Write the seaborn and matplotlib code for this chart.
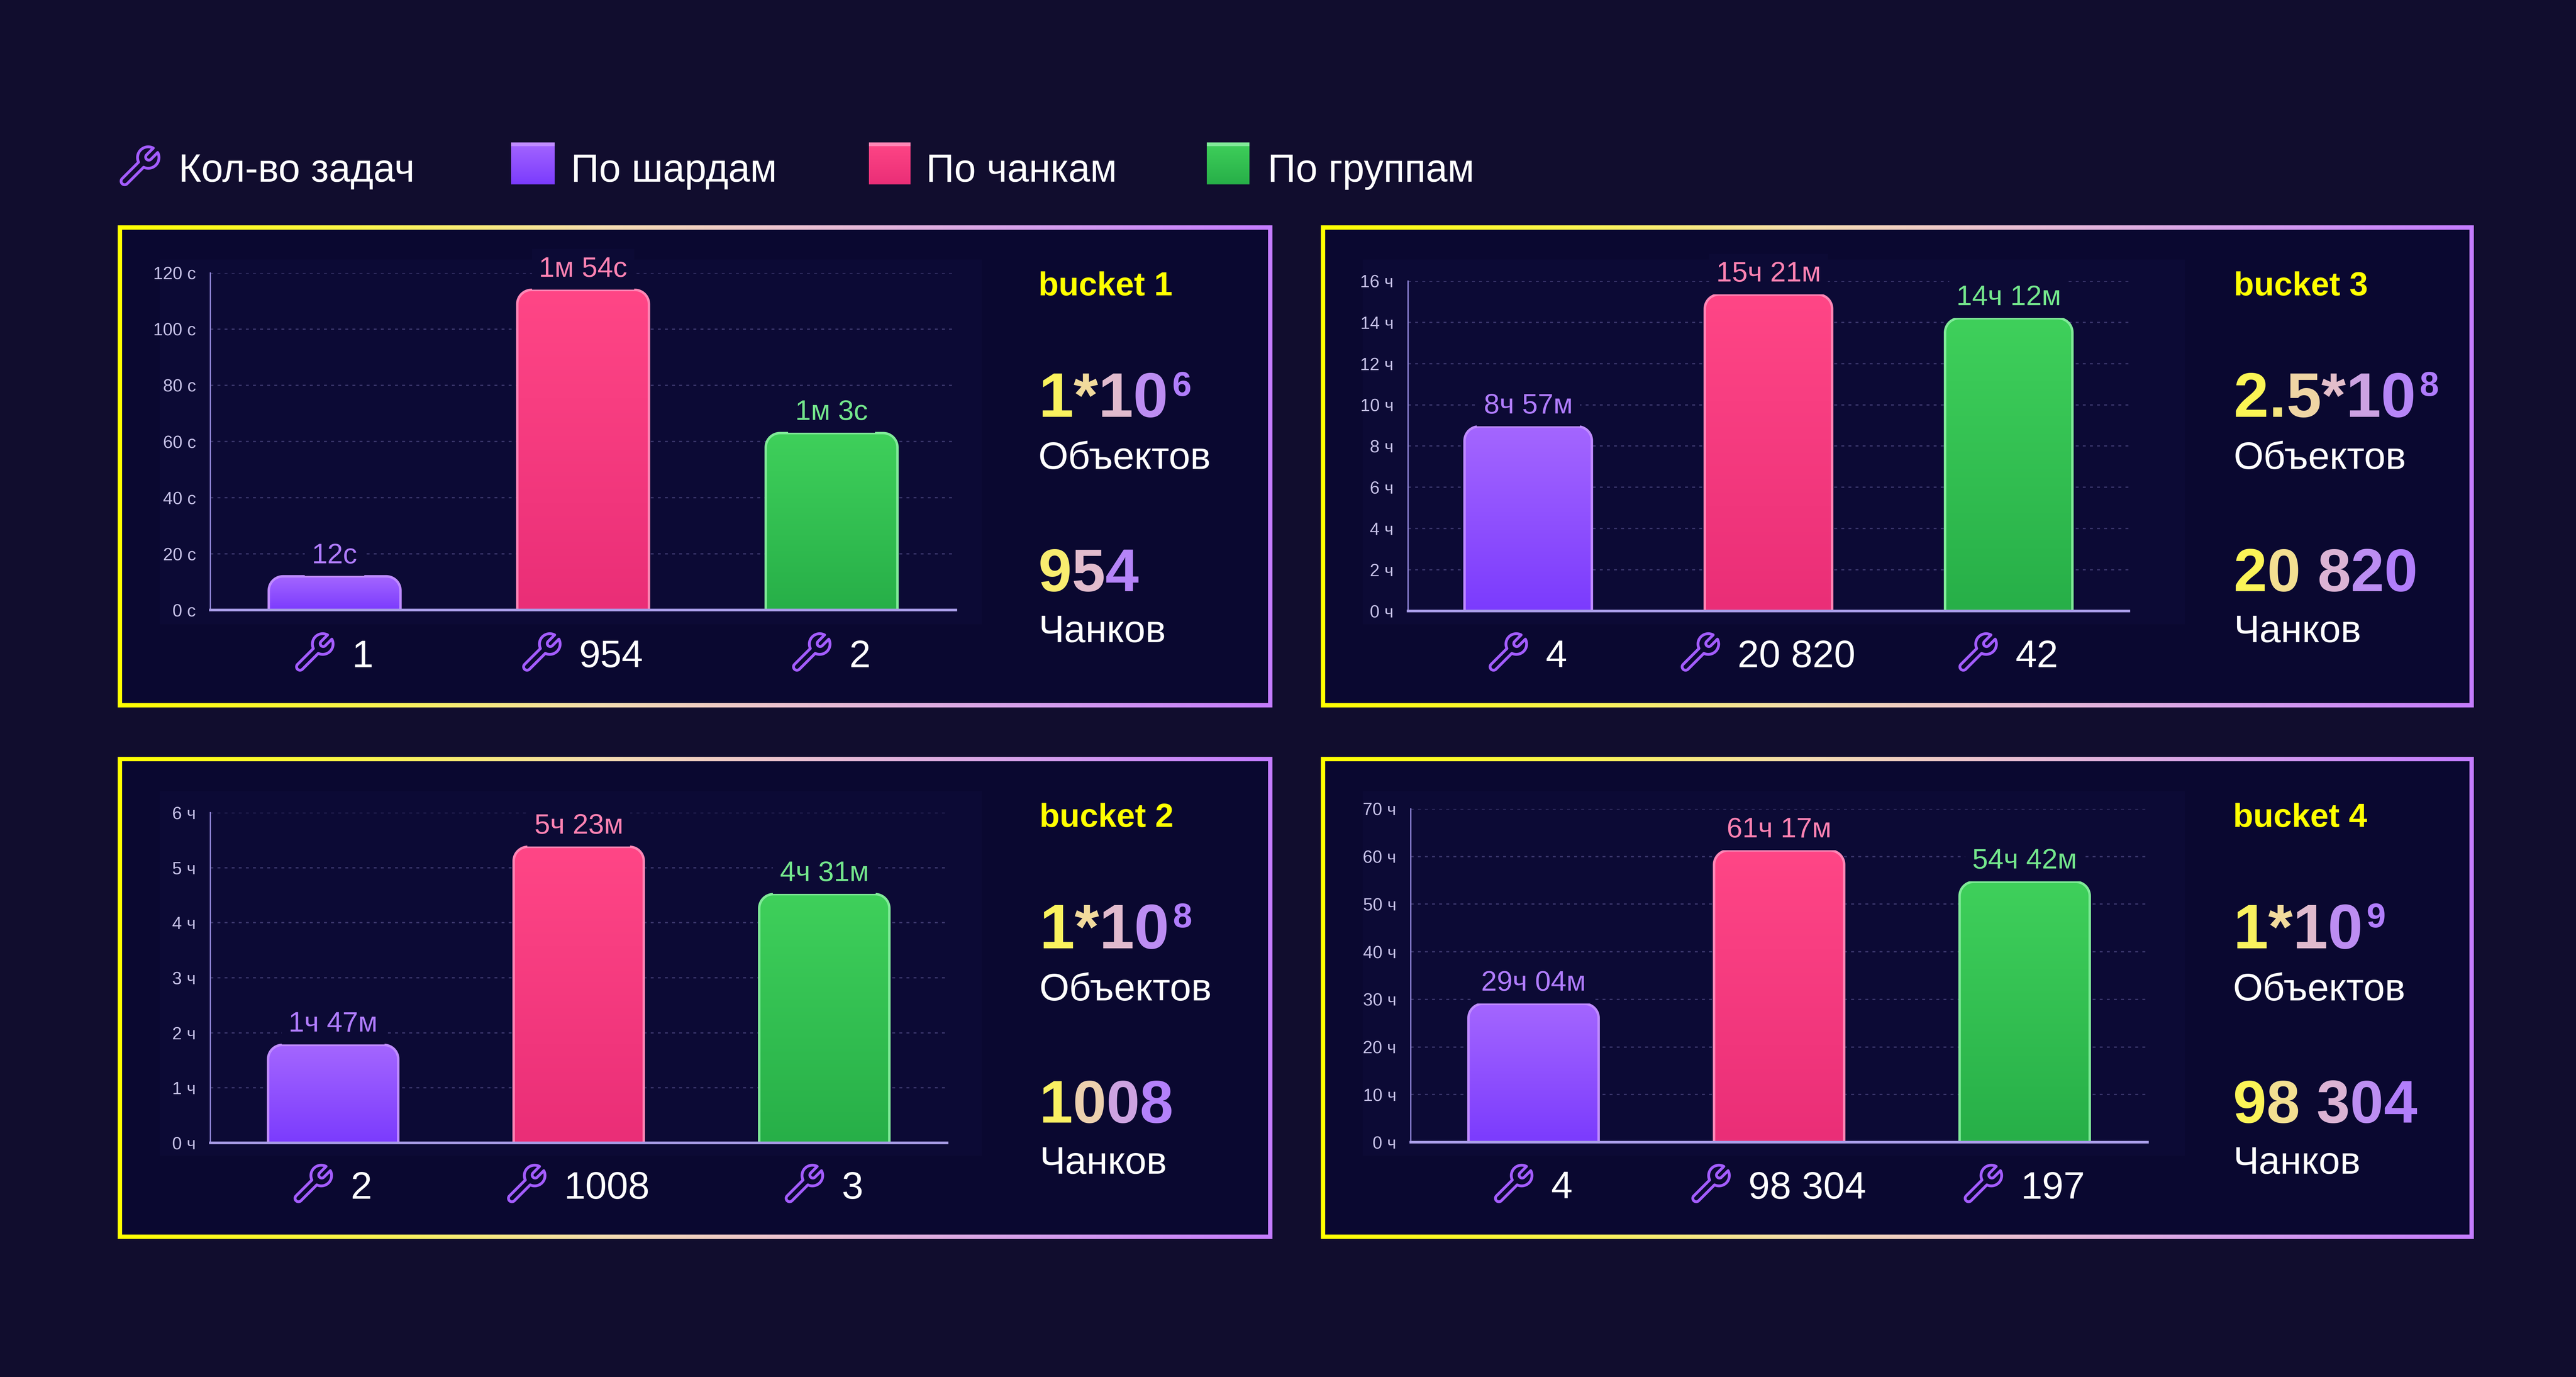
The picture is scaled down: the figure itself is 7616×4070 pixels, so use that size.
import numpy as np
import pandas as pd
import matplotlib
matplotlib.use("Agg")
import matplotlib.pyplot as plt
import seaborn as sns
from matplotlib.path import Path
from matplotlib.patches import PathPatch, Rectangle
from matplotlib.colors import LinearSegmentedColormap
from matplotlib import font_manager, ft2font
from matplotlib.font_manager import FontProperties

# ---------------- data ----------------
series_names = ["По шардам", "По чанкам", "По группам"]
tasks_legend_label = "Кол-во задач"
objects_word = "Объектов"
chunks_word = "Чанков"

b1_name = "bucket 1"
b1_values = [12, 114, 63]                       # seconds
b1_value_labels = ["12с", "1м 54с", "1м 3с"]
b1_tasks = ["1", "954", "2"]
b1_yticks = [0, 20, 40, 60, 80, 100, 120]
b1_ytick_labels = ["0 с", "20 с", "40 с", "60 с", "80 с", "100 с", "120 с"]
b1_objects = ["1*10", "6"]
b1_chunks = "954"

b2_name = "bucket 2"
b2_values = [1.78, 5.38, 4.52]                  # hours
b2_value_labels = ["1ч 47м", "5ч 23м", "4ч 31м"]
b2_tasks = ["2", "1008", "3"]
b2_yticks = [0, 1, 2, 3, 4, 5, 6]
b2_ytick_labels = ["0 ч", "1 ч", "2 ч", "3 ч", "4 ч", "5 ч", "6 ч"]
b2_objects = ["1*10", "8"]
b2_chunks = "1008"

b3_name = "bucket 3"
b3_values = [8.95, 15.35, 14.2]                 # hours
b3_value_labels = ["8ч 57м", "15ч 21м", "14ч 12м"]
b3_tasks = ["4", "20 820", "42"]
b3_yticks = [0, 2, 4, 6, 8, 10, 12, 14, 16]
b3_ytick_labels = ["0 ч", "2 ч", "4 ч", "6 ч", "8 ч", "10 ч", "12 ч", "14 ч", "16 ч"]
b3_objects = ["2.5*10", "8"]
b3_chunks = "20 820"

b4_name = "bucket 4"
b4_values = [29.07, 61.28, 54.7]                # hours
b4_value_labels = ["29ч 04м", "61ч 17м", "54ч 42м"]
b4_tasks = ["4", "98 304", "197"]
b4_yticks = [0, 10, 20, 30, 40, 50, 60, 70]
b4_ytick_labels = ["0 ч", "10 ч", "20 ч", "30 ч", "40 ч", "50 ч", "60 ч", "70 ч"]
b4_objects = ["1*10", "9"]
b4_chunks = "98 304"

# ---------------- style ----------------
W, H, DPI = 7616, 4070, 400
BG = "#110d2e"
PANEL = "#0a0830"
CHART_BG = "#0c0a35"

bar_mid = ["#9150ff", "#f53c7f", "#34c052"]
bar_top = ["#a466ff", "#ff4686", "#3fd05b"]
bar_bot = ["#7b3bfd", "#ea2e77", "#27af48"]
bar_edge = ["#bf8bff", "#ff86b5", "#80ea98"]
label_cols = ["#b07cff", "#ff82b2", "#74e68c"]
WRENCH_COL = "#a35cff"

sns.set_theme(style="dark", rc={"axes.facecolor": PANEL, "figure.facecolor": BG})
plt.rcParams["font.family"] = ["Liberation Sans", "DejaVu Sans"]

border_cmap = LinearSegmentedColormap.from_list(
    "border", [(0, "#ffff00"), (0.22, "#fbf450"), (0.42, "#f5dcb0"),
               (0.58, "#ecc2d0"), (0.8, "#d59eec"), (1, "#c47cff")])
text_cmap = LinearSegmentedColormap.from_list(
    "txt", [(0, "#ffff3a"), (0.3, "#f2dc9a"), (0.5, "#e2bccd"),
            (0.75, "#b98af5"), (1, "#ad78ff")])

fig = plt.figure(figsize=(W / DPI, H / DPI), dpi=DPI, facecolor=BG)
bg = fig.add_axes([0, 0, 1, 1])
bg.set_xlim(0, W)
bg.set_ylim(H, 0)
bg.axis("off")
bg.set_zorder(0)


# ---------------- helpers ----------------
def wrench_unit():
    R, hw, sw, cy, hb = 0.45, 0.15, 0.13, 0.55, -0.85
    pts = []
    a = np.linspace(np.pi, 2 * np.pi, 20)
    pts += list(zip(hw * np.cos(a), hb + hw * np.sin(a)))
    yj = cy - np.sqrt(R ** 2 - hw ** 2)
    yt = cy + np.sqrt(R ** 2 - sw ** 2)
    a0 = np.arctan2(yj - cy, hw)
    a1 = np.arctan2(yt - cy, sw)
    a = np.linspace(a0, a1, 40)
    pts += list(zip(R * np.cos(a), cy + R * np.sin(a)))
    sb = cy + 0.03
    a = np.linspace(0, -np.pi, 20)
    pts += list(zip(sw * np.cos(a), sb + sw * np.sin(a)))
    a2 = np.arctan2(yt - cy, -sw)
    a3 = np.arctan2(yj - cy, -hw) + 2 * np.pi
    a = np.linspace(a2, a3, 40)
    pts += list(zip(R * np.cos(a), cy + R * np.sin(a)))
    pts.append((-hw, hb))
    p = np.array(pts)
    th = -np.pi / 4
    rot = np.column_stack([p[:, 0] * np.cos(th) - p[:, 1] * np.sin(th),
                           p[:, 0] * np.sin(th) + p[:, 1] * np.cos(th)])
    mn, mx = rot.min(axis=0), rot.max(axis=0)
    rot = (rot - (mn + mx) / 2) / (mx - mn).max()
    return rot


WRENCH = wrench_unit()


def draw_wrench(cx, cy, size, lw=1.5):
    pts = np.column_stack([cx + WRENCH[:, 0] * size, cy - WRENCH[:, 1] * size])
    pts = np.vstack([pts, pts[:1]])
    bg.add_patch(PathPatch(Path(pts, closed=True), fill=False, edgecolor=WRENCH_COL,
                           lw=lw, joinstyle="round", zorder=7))


BOLD_PATH = font_manager.findfont(FontProperties(family="Liberation Sans", weight="bold"))


def advance(ch, size_pt):
    f = ft2font.FT2Font(BOLD_PATH)
    f.set_size(size_pt, DPI)
    g = f.load_char(ord(ch))
    return g.linearHoriAdvance / 65536


def grad_text(x, y, parts):
    items = []
    pen = x
    for s, size, raise_px, gap in parts:
        pen += gap
        for ch in s:
            a = advance(ch, size)
            items.append((ch, size, raise_px, pen, a))
            pen += a
    total = pen - x
    for ch, size, raise_px, px, a in items:
        frac = min(max((px + a / 2 - x) / total, 0), 1)
        bg.text(px, y - raise_px, ch, fontsize=size, fontweight="bold",
                color=text_cmap(frac), ha="left", va="baseline", zorder=7)


def rounded_top(x, y, w, h, rx, ry, closed=True):
    rx = min(rx, w / 2)
    ry = min(ry, h / 2)
    t = np.linspace(0, np.pi / 2, 16)
    left = [(x + rx + rx * np.cos(a), y + h - ry + ry * np.sin(a)) for a in (np.pi - t)]
    right = [(x + w - rx + rx * np.cos(a), y + h - ry + ry * np.sin(a)) for a in (np.pi / 2 - t)]
    pts = [(x, y)] + left + right + [(x + w, y)]
    if closed:
        pts.append((x, y))
        codes = [Path.MOVETO] + [Path.LINETO] * (len(pts) - 2) + [Path.CLOSEPOLY]
    else:
        codes = [Path.MOVETO] + [Path.LINETO] * (len(pts) - 1)
    return Path(pts, codes)


def grad_rect(x0, y0, x1, y1, top_c, bot_c, r, zorder):
    path = rounded_top(x0, -y1, x1 - x0, y1 - y0, r, r)
    v = path.vertices.copy()
    v[:, 1] = -v[:, 1]
    clip = PathPatch(Path(v, path.codes), facecolor="none", edgecolor="none",
                     transform=bg.transData)
    bg.add_patch(clip)
    cm = LinearSegmentedColormap.from_list("", [top_c, bot_c])
    im = bg.imshow(np.linspace(0, 1, 256)[:, None], extent=[x0, x1, y1, y0],
                   origin="upper", cmap=cm, aspect="auto", zorder=zorder,
                   interpolation="bilinear")
    im.set_clip_path(clip)


renderer = fig.canvas.get_renderer()

# ---------------- legend ----------------
LEG_Y = 537
draw_wrench(414, 490, 112, lw=1.5)
bg.text(528, LEG_Y, tasks_legend_label, fontsize=20.8, color="white", ha="left",
        va="baseline", zorder=7)
legend_boxes = [(1511, 1640, 1688), (2569, 2692, 2738), (3568, 3694, 3748)]
for (lx0, lx1, tx), name, tc, bc, ec in zip(legend_boxes, series_names, bar_top, bar_bot, bar_edge):
    grad_rect(lx0, 421, lx1, 545, tc, bc, 6, 5)
    bg.add_patch(Rectangle((lx0, 421), lx1 - lx0, 11, facecolor=ec, edgecolor="none", zorder=6))
    bg.text(tx, LEG_Y, name, fontsize=20.8, color="white", ha="left", va="baseline", zorder=7)

# ---------------- panels ----------------
panels = [
    dict(box=(348, 666, 3762, 2091), axes=(622, 807, 2826, 1803), tx=3070,
         name=b1_name, values=b1_values, vlabels=b1_value_labels, tasks=b1_tasks,
         yticks=b1_yticks, ylabels=b1_ytick_labels, objects=b1_objects, chunks=b1_chunks),
    dict(box=(348, 2237, 3762, 3662), axes=(622, 2402, 2800, 3378), tx=3073,
         name=b2_name, values=b2_values, vlabels=b2_value_labels, tasks=b2_tasks,
         yticks=b2_yticks, ylabels=b2_ytick_labels, objects=b2_objects, chunks=b2_chunks),
    dict(box=(3905, 666, 7314, 2091), axes=(4163, 831, 6294, 1806), tx=6604,
         name=b3_name, values=b3_values, vlabels=b3_value_labels, tasks=b3_tasks,
         yticks=b3_yticks, ylabels=b3_ytick_labels, objects=b3_objects, chunks=b3_chunks),
    dict(box=(3905, 2237, 7314, 3662), axes=(4171, 2391, 6349, 3376), tx=6602,
         name=b4_name, values=b4_values, vlabels=b4_value_labels, tasks=b4_tasks,
         yticks=b4_yticks, ylabels=b4_ytick_labels, objects=b4_objects, chunks=b4_chunks),
]

BW = 13
for p in panels:
    x0, y0, x1, y1 = p["box"]
    bg.imshow(np.linspace(0, 1, 512)[None, :], extent=[x0, x1, y1, y0], cmap=border_cmap,
              aspect="auto", zorder=1, interpolation="bilinear")
    bg.add_patch(Rectangle((x0 + BW, y0 + BW), x1 - x0 - 2 * BW, y1 - y0 - 2 * BW,
                           facecolor=PANEL, edgecolor="none", zorder=2))
    bg.add_patch(Rectangle((x0 + 124, y0 + 101), 2431, 1078, facecolor=CHART_BG,
                           edgecolor="none", zorder=2.5))

    l, t, r, b = p["axes"]
    ax = fig.add_axes([l / W, 1 - b / H, (r - l) / W, (b - t) / H])
    ax.set_zorder(3)
    ax.patch.set_visible(False)
    df = pd.DataFrame({"series": series_names, "value": p["values"]})
    sns.barplot(data=df, x="series", y="value", hue="series", palette=bar_mid,
                width=0.53, saturation=1, legend=False, errorbar=None, ax=ax)
    ax.set_xlim(-0.5, 2.5)
    ax.set_ylim(0, p["yticks"][-1])
    ax.set_yticks(p["yticks"])
    ax.set_yticklabels(p["ylabels"], fontsize=9.3, color="#c5c0e6")
    ax.tick_params(axis="y", length=0, pad=7.7)
    ax.tick_params(axis="x", length=0, labelbottom=False)
    ax.set_xlabel("")
    ax.set_ylabel("")
    ax.set_axisbelow(True)
    ax.xaxis.grid(False)
    ax.yaxis.grid(True, color="#3a366b", lw=0.7, linestyle=(0, (2.2, 3.2)))
    for s in ("top", "right"):
        ax.spines[s].set_visible(False)
    ax.spines["left"].set_color("#8f84d6")
    ax.spines["left"].set_linewidth(0.7)
    ax.spines["bottom"].set_color("#a99de8")
    ax.spines["bottom"].set_linewidth(1.4)
    ax.spines["bottom"].set_zorder(6)

    sx = ax.transData.transform((1, 0))[0] - ax.transData.transform((0, 0))[0]
    sy = ax.transData.transform((0, 1))[1] - ax.transData.transform((0, 0))[1]
    bars = sorted(ax.patches, key=lambda q: q.get_x())
    for i, patch in enumerate(bars):
        bx, bw, bh = patch.get_x(), patch.get_width(), patch.get_height()
        patch.set_visible(False)
        clip = PathPatch(rounded_top(bx, 0, bw, bh, 42 / sx, 42 / sy), facecolor="none",
                         edgecolor="none", transform=ax.transData)
        ax.add_patch(clip)
        cm = LinearSegmentedColormap.from_list("", [bar_bot[i], bar_top[i]])
        im = ax.imshow(np.linspace(0, 1, 256)[:, None], extent=[bx, bx + bw, 0, bh],
                       origin="lower", cmap=cm, aspect="auto", zorder=3,
                       interpolation="bilinear")
        im.set_clip_path(clip)
        ax.add_patch(PathPatch(rounded_top(bx, 0, bw, bh, 42 / sx, 42 / sy, closed=False),
                               fill=False, edgecolor=bar_edge[i], lw=1.3, zorder=4))
        ax.annotate(p["vlabels"][i], xy=(bx + bw / 2, bh), xytext=(0, 7),
                    textcoords="offset points", ha="center", va="baseline",
                    fontsize=15, color=label_cols[i], zorder=6, annotation_clip=False,
                    bbox=dict(boxstyle="square,pad=0.25", fc=CHART_BG, ec="none"))
        # task count label under the bar
        cx_pix = ax.transData.transform((bx + bw / 2, 0))[0]
        yb = y0 + 1306
        txt = bg.text(0, yb, p["tasks"][i], fontsize=20.5, color="white", ha="left",
                      va="baseline", zorder=7)
        tw = txt.get_window_extent(renderer).width
        group = 112 + 54 + tw
        left = cx_pix - group / 2
        txt.set_x(left + 166)
        draw_wrench(left + 56, yb - 45, 108, lw=1.5)
    ax.set_xlim(-0.5, 2.5)
    ax.set_ylim(0, p["yticks"][-1])

    tx = p["tx"]
    bg.text(tx, y0 + 207, p["name"], fontsize=17.6, fontweight="bold", color="#ffff00",
            ha="left", va="baseline", zorder=7)
    grad_text(tx, y0 + 566, [(p["objects"][0], 33.5, 0, 0), (p["objects"][1], 18.4, 62, 12)])
    bg.text(tx, y0 + 720, objects_word, fontsize=20.5, color="white", ha="left",
            va="baseline", zorder=7)
    grad_text(tx, y0 + 1081, [(p["chunks"], 32, 0, 0)])
    bg.text(tx, y0 + 1232, chunks_word, fontsize=20.5, color="white", ha="left",
            va="baseline", zorder=7)

bg.set_xlim(0, W)
bg.set_ylim(H, 0)

fig.savefig("out.png", dpi=DPI, facecolor=BG)
